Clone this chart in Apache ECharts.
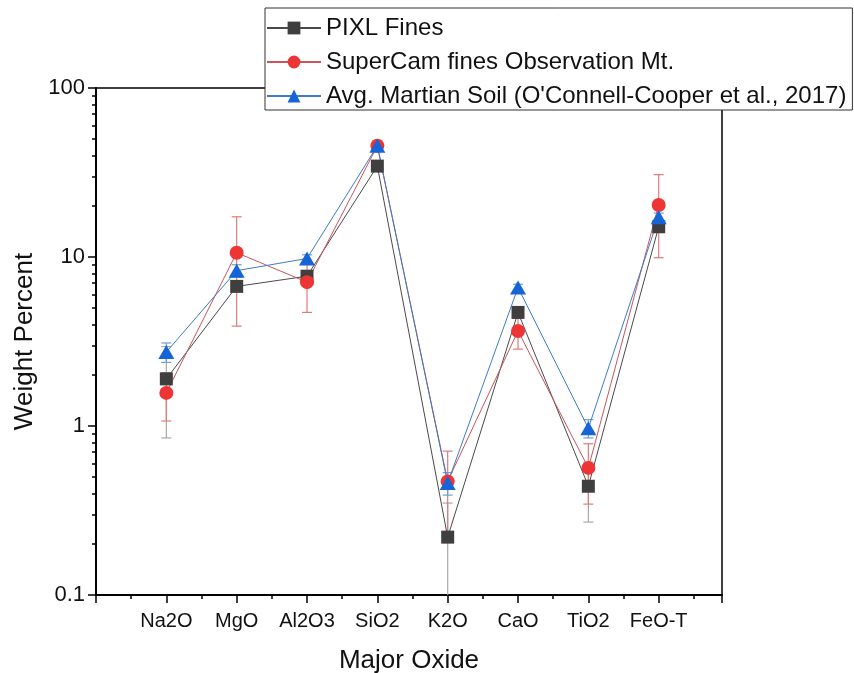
<!DOCTYPE html>
<html>
<head>
<meta charset="utf-8">
<script src="https://cdn.jsdelivr.net/npm/echarts@6/dist/echarts.min.js"></script>
<style>
  html, body { margin: 0; padding: 0; background: #ffffff; }
  #chart { width: 854px; height: 673px; }
</style>
</head>
<body>
<div id="chart"></div>
<script>
// Oxide categories along the x axis (placed at positions 1..8)
const categories = ['Na2O', 'MgO', 'Al2O3', 'SiO2', 'K2O', 'CaO', 'TiO2', 'FeO-T'];

// Weight percent values and their ± uncertainties
const pixlFines = [1.9, 6.7, 7.7, 34.5, 0.22, 4.7, 0.44, 15.1];
const pixlErr = [1.05, 0.3, 0.4, 2.0, 0.13, 0.35, 0.17, 1.0];

const superCamFines = [1.57, 10.6, 7.1, 45.5, 0.47, 3.65, 0.565, 20.3];
const superCamErr = [0.5, 6.7, 2.4, 3.0, 0.24, 0.8, 0.22, 10.4];

const marsSoil = [2.74, 8.3, 9.8, 45.5, 0.46, 6.6, 0.97, 17.2];
const marsSoilErr = [0.36, 0.7, 0.5, 2.0, 0.07, 0.3, 0.12, 1.0];

// Log axis range and minor tick positions (2..9 within each decade)
const yMin = 0.1;
const yMax = 100;
const minorTickValues = [0.2, 0.3, 0.4, 0.5, 0.6, 0.7, 0.8, 0.9,
                         2, 3, 4, 5, 6, 7, 8, 9,
                         20, 30, 40, 50, 60, 70, 80, 90];

const FONT = 'Liberation Sans, Arial, sans-serif';

function points(values) {
  return values.map((v, i) => [i + 1, v]);
}

function errorData(values, errs) {
  return values.map((v, i) => [i + 1, v - errs[i], v + errs[i]]);
}

function errorBarSeries(values, errs, color) {
  return {
    type: 'custom',
    z: 1,
    silent: true,
    data: errorData(values, errs),
    encode: { x: 0, y: [1, 2] },
    renderItem: function (params, api) {
      const x = api.value(0);
      const lo = api.value(1);
      const hi = api.value(2);
      const clipped = lo < yMin;
      const top = api.coord([x, hi]);
      const bot = api.coord([x, clipped ? yMin : lo]);
      const half = 5;
      const style = { stroke: color, lineWidth: 1.2 };
      const children = [
        { type: 'line', shape: { x1: top[0], y1: top[1], x2: bot[0], y2: bot[1] }, style: style },
        { type: 'line', shape: { x1: top[0] - half, y1: top[1], x2: top[0] + half, y2: top[1] }, style: style }
      ];
      if (!clipped) {
        children.push({ type: 'line', shape: { x1: bot[0] - half, y1: bot[1], x2: bot[0] + half, y2: bot[1] }, style: style });
      }
      return { type: 'group', children: children };
    }
  };
}

function lineSeries(name, values, symbol, size, fill, lineColor) {
  return {
    name: name,
    type: 'line',
    z: 3,
    data: points(values),
    symbol: symbol,
    symbolSize: size,
    showAllSymbol: true,
    itemStyle: { color: fill, opacity: 1 },
    lineStyle: { color: lineColor, width: 1 },
    emphasis: { disabled: true }
  };
}

const chart = echarts.init(document.getElementById('chart'), null, { renderer: 'canvas' });

chart.setOption({
  animation: false,
  backgroundColor: '#ffffff',
  textStyle: { fontFamily: FONT },
  grid: {
    left: 96, top: 88, width: 626, height: 507,
    outerBoundsMode: 'none',
    containLabel: false,
    show: true, borderColor: '#000', borderWidth: 1.5, backgroundColor: 'transparent'
  },
  legend: {
    left: 265, top: 8,
    orient: 'vertical',
    selectedMode: false,
    backgroundColor: '#ffffff',
    borderColor: '#333',
    borderWidth: 1,
    padding: [8, 6, 2, 1],
    itemWidth: 54,
    itemHeight: 16,
    itemGap: 10,
    textStyle: { fontFamily: FONT, fontSize: 24, color: '#111' },
    data: ['PIXL Fines', 'SuperCam fines Observation Mt.', "Avg. Martian Soil (O'Connell-Cooper et al., 2017)"]
  },
  xAxis: {
    type: 'value',
    min: 0,
    max: 8.9,
    interval: 1,
    name: 'Major Oxide',
    nameLocation: 'middle',
    nameGap: 53,
    nameTextStyle: { fontFamily: FONT, fontSize: 26, color: '#111' },
    axisLine: { onZero: false, lineStyle: { color: '#000', width: 2 } },
    axisTick: { show: true, inside: false, length: 8, lineStyle: { color: '#000', width: 1.5 } },
    minorTick: { show: true, splitNumber: 2, length: 4, lineStyle: { color: '#000', width: 1.5 } },
    splitLine: { show: false },
    minorSplitLine: { show: false },
    axisLabel: {
      margin: 16,
      fontFamily: FONT, fontSize: 20, color: '#111',
      showMinLabel: true, showMaxLabel: true,
      formatter: function (v) {
        const i = Math.round(v);
        return (Math.abs(v - i) < 1e-6 && i >= 1 && i <= categories.length) ? categories[i - 1] : '';
      }
    }
  },
  yAxis: [
    {
      type: 'log',
      logBase: 10,
      min: yMin,
      max: yMax,
      name: 'Weight Percent',
      nameLocation: 'middle',
      nameGap: 53,
      nameTextStyle: { fontFamily: FONT, fontSize: 26, color: '#111' },
      axisLine: { show: true, onZero: false, lineStyle: { color: '#000', width: 2 } },
      axisTick: { show: true, inside: false, length: 8, lineStyle: { color: '#000', width: 1.5 } },
      splitLine: { show: false },
      axisLabel: {
        margin: 11,
        fontFamily: FONT, fontSize: 22, color: '#111',
        formatter: function (v) { return String(v); }
      }
    },
    {
      // companion axis in log10 space carrying only the minor ticks
      type: 'value',
      min: Math.log10(yMin),
      max: Math.log10(yMax),
      position: 'left',
      axisLine: { show: false, onZero: false },
      axisLabel: { show: false },
      splitLine: { show: false },
      axisTick: {
        show: true, inside: false, length: 4,
        customValues: minorTickValues.map(v => Math.log10(v)),
        lineStyle: { color: '#000', width: 1.5 }
      }
    }
  ],
  series: [
    errorBarSeries(pixlFines, pixlErr, '#a8a8a8'),
    errorBarSeries(superCamFines, superCamErr, '#e07a7a'),
    errorBarSeries(marsSoil, marsSoilErr, '#6e9fd8'),
    lineSeries('PIXL Fines', pixlFines, 'rect', 13, '#3f3f3f', '#4a4a4a'),
    lineSeries('SuperCam fines Observation Mt.', superCamFines, 'circle', 14, '#ee3535', '#c9565a'),
    lineSeries("Avg. Martian Soil (O'Connell-Cooper et al., 2017)", marsSoil, 'triangle', [16, 14], '#1565d8', '#3d7cc6')
  ]
});
</script>
</body>
</html>
